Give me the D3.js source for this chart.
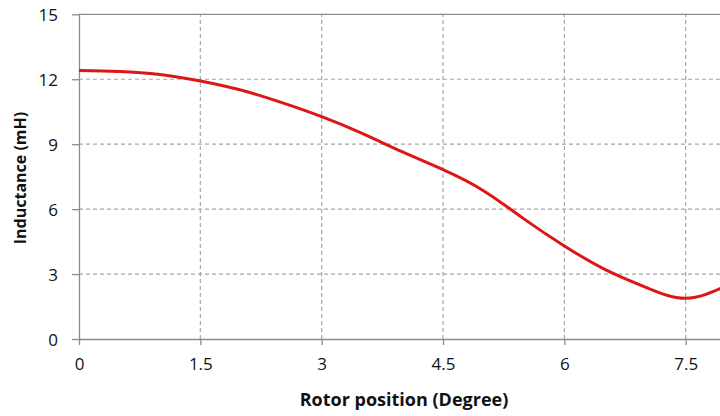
<!DOCTYPE html>
<html>
<head>
<meta charset="utf-8">
<script src="https://cdn.jsdelivr.net/npm/d3@7.9.0/dist/d3.min.js"></script>
<style>
  body { margin: 0; background: #fff; }
  svg { display: block; font-family: "Open Sans", "Liberation Sans", sans-serif; }
</style>
</head>
<body>
<svg id="chart" width="720" height="416"></svg>
<script>
// Data
const rotorPosition = [0, 0.5, 1, 1.5, 2, 2.5, 3, 3.5, 4, 4.5, 5, 5.5, 6, 6.5, 7, 7.5, 8];
const inductance = [12.40, 12.36, 12.22, 11.92, 11.50, 10.93, 10.27, 9.50, 8.64, 7.82, 6.85, 5.55, 4.30, 3.22, 2.40, 1.88, 2.45];
const xTicks = [0, 1.5, 3, 4.5, 6, 7.5];
const yTicks = [0, 3, 6, 9, 12, 15];

const svg = d3.select("#chart");

// plot area runs past the right edge of the picture, like the reference crop
const x = d3.scaleLinear().domain([0, 9]).range([79, 807]);
const y = d3.scaleLinear().domain([0, 15]).range([339, 14.3]);

const gridColor = "#a6a6a6";
const axisColor = "#8c8c8c";
const textColor = "#111";

// dashed grid lines
svg.append("g")
  .selectAll("line")
  .data(yTicks.filter(d => d > 0 && d < 15))
  .join("line")
  .attr("x1", x(0)).attr("x2", x(9))
  .attr("y1", d => y(d)).attr("y2", d => y(d))
  .attr("stroke", gridColor)
  .attr("stroke-width", 1.2)
  .attr("stroke-dasharray", "4,3");

svg.append("g")
  .selectAll("line")
  .data(xTicks.filter(d => d > 0))
  .join("line")
  .attr("x1", d => x(d)).attr("x2", d => x(d))
  .attr("y1", y(0)).attr("y2", y(15))
  .attr("stroke", gridColor)
  .attr("stroke-width", 1.2)
  .attr("stroke-dasharray", "4,3");

// top border
svg.append("line")
  .attr("x1", x(0)).attr("x2", x(9))
  .attr("y1", y(15)).attr("y2", y(15))
  .attr("stroke", axisColor)
  .attr("stroke-width", 1.3);

// axes
const xAxis = svg.append("g")
  .attr("transform", `translate(0,${y(0)})`)
  .call(d3.axisBottom(x).tickValues(xTicks).tickSize(6).tickSizeOuter(0).tickPadding(13)
    .tickFormat(d => d));

const yAxis = svg.append("g")
  .attr("transform", `translate(${x(0)},0)`)
  .call(d3.axisLeft(y).tickValues(yTicks).tickSize(7).tickSizeOuter(0).tickPadding(14));

[xAxis, yAxis].forEach(g => {
  g.select(".domain").attr("stroke", axisColor).attr("stroke-width", 1.3);
  g.selectAll(".tick line").attr("stroke", axisColor).attr("stroke-width", 1.3);
  g.selectAll(".tick text")
    .attr("fill", textColor)
    .style("font-size", "17px")
    .style("font-family", "'Open Sans', sans-serif");
});
yAxis.selectAll(".tick text").attr("dy", "0.36em");

// curve
const line = d3.line()
  .x((d, i) => x(rotorPosition[i]))
  .y(d => y(d))
  .curve(d3.curveNatural);

svg.append("path")
  .datum(inductance)
  .attr("d", line)
  .attr("fill", "none")
  .attr("stroke", "#dd1616")
  .attr("stroke-width", 3);

// axis titles
svg.append("text")
  .attr("x", 404)
  .attr("y", 406)
  .attr("text-anchor", "middle")
  .attr("fill", textColor)
  .style("font-size", "18px")
  .style("font-weight", "bold")
  .text("Rotor position (Degree)");

svg.append("text")
  .attr("transform", "translate(26,178) rotate(-90)")
  .attr("text-anchor", "middle")
  .attr("fill", textColor)
  .style("font-size", "16px")
  .style("font-weight", "bold")
  .text("Inductance (mH)");
</script>
</body>
</html>
